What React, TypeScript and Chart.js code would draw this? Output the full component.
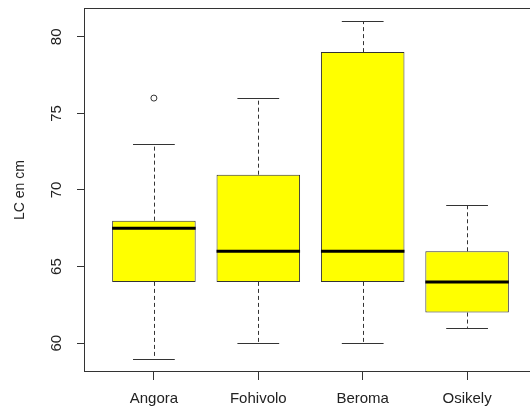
import React, { useEffect, useRef } from "react";
import { Chart, registerables } from "chart.js";

Chart.register(...registerables);

const categories = ["Angora", "Fohivolo", "Beroma", "Osikely"];
const whiskerLow = [59, 60, 60, 61];
const q1 = [64, 64, 64, 62];
const median = [67.5, 66, 66, 64];
const q3 = [68, 71, 79, 66];
const whiskerHigh = [73, 76, 81, 69];
const outlierValues: number[][] = [[76], [], [], []];
const yTicks = [60, 65, 70, 75, 80];
const yTitle = "LC en cm";

const FONT = "'Liberation Sans', Arial, Helvetica, sans-serif";
const LINE = "#333333";
const TEXT = "#222222";

export default function App() {
  const ref = useRef<HTMLCanvasElement | null>(null);

  useEffect(() => {
    document.documentElement.style.overflow = "hidden";
    const canvas = ref.current!;
    const boxPlugin = {
      id: "boxparts",
      beforeDatasetsDraw(chart: any) {
        const ctx = chart.ctx;
        const xs = chart.scales.x;
        const ys = chart.scales.y;
        ctx.save();
        ctx.strokeStyle = LINE;
        ctx.lineWidth = 1;
        categories.forEach((_, i) => {
          const cx = Math.round(xs.getPixelForValue(i + 1)) + 0.5;
          const pLow = ys.getPixelForValue(whiskerLow[i]);
          const pQ1 = ys.getPixelForValue(q1[i]);
          const pQ3 = ys.getPixelForValue(q3[i]);
          const pHigh = ys.getPixelForValue(whiskerHigh[i]);
          ctx.setLineDash([4, 3]);
          ctx.beginPath();
          ctx.moveTo(cx, pQ3);
          ctx.lineTo(cx, pHigh);
          ctx.moveTo(cx, pQ1);
          ctx.lineTo(cx, pLow);
          ctx.stroke();
          ctx.setLineDash([]);
          const l = xs.getPixelForValue(i + 1 - 0.2);
          const r = xs.getPixelForValue(i + 1 + 0.2);
          ctx.beginPath();
          ctx.moveTo(l, Math.round(pHigh) + 0.5);
          ctx.lineTo(r, Math.round(pHigh) + 0.5);
          ctx.moveTo(l, Math.round(pLow) + 0.5);
          ctx.lineTo(r, Math.round(pLow) + 0.5);
          ctx.stroke();
        });
        ctx.restore();
      },
      afterDatasetsDraw(chart: any) {
        const ctx = chart.ctx;
        const xs = chart.scales.x;
        const ys = chart.scales.y;
        ctx.save();
        ctx.strokeStyle = "#000000";
        ctx.lineWidth = 3;
        categories.forEach((_, i) => {
          const l = xs.getPixelForValue(i + 1 - 0.4);
          const r = xs.getPixelForValue(i + 1 + 0.4);
          const p = ys.getPixelForValue(median[i]);
          ctx.beginPath();
          ctx.moveTo(l, p);
          ctx.lineTo(r, p);
          ctx.stroke();
        });
        ctx.restore();
      },
      afterDraw(chart: any) {
        const ctx = chart.ctx;
        const a = chart.chartArea;
        const ys = chart.scales.y;
        ctx.save();
        ctx.strokeStyle = LINE;
        ctx.lineWidth = 1;
        ctx.strokeRect(a.left - 0.5, a.top + 0.5, a.right - a.left + 1, a.bottom - a.top - 1);
        ctx.fillStyle = TEXT;
        ctx.font = `15px ${FONT}`;
        ctx.textAlign = "center";
        ctx.textBaseline = "middle";
        yTicks.forEach((v) => {
          const p = ys.getPixelForValue(v);
          ctx.save();
          ctx.translate(57, p);
          ctx.rotate(-Math.PI / 2);
          ctx.fillText(String(v), 0, 0);
          ctx.restore();
        });
        ctx.font = `14px ${FONT}`;
        ctx.save();
        ctx.translate(20, (a.top + a.bottom) / 2);
        ctx.rotate(-Math.PI / 2);
        ctx.fillText(yTitle, 0, 0);
        ctx.restore();
        ctx.restore();
      },
    };

    const outlierPoints: { x: number; y: number }[] = [];
    outlierValues.forEach((vals, i) => vals.forEach((v) => outlierPoints.push({ x: i + 1, y: v })));

    const chart = new Chart(canvas, {
      type: "bar",
      data: {
        datasets: [
          {
            type: "bar",
            data: categories.map((_, i) => ({ x: i + 1, y: [q1[i], q3[i]] })) as any,
            backgroundColor: "#ffff00",
            borderColor: LINE,
            borderWidth: 1,
            borderSkipped: false,
            barPercentage: 0.8,
            categoryPercentage: 1,
          },
          {
            type: "scatter",
            data: outlierPoints as any,
            pointStyle: "circle",
            pointRadius: 3,
            borderColor: LINE,
            backgroundColor: "rgba(0,0,0,0)",
            borderWidth: 1,
          } as any,
        ],
      },
      options: {
        animation: false,
        responsive: false,
        devicePixelRatio: 1,
        layout: { padding: { top: 8, right: 5, left: 0, bottom: 0 } },
        plugins: { legend: { display: false }, tooltip: { enabled: false } },
        scales: {
          x: {
            type: "linear",
            offset: false,
            min: 0.34,
            max: 4.66,
            afterBuildTicks: (s: any) => {
              s.ticks = categories.map((_, i) => ({ value: i + 1 }));
            },
            afterFit: (s: any) => {
              s.height = 38;
            },
            ticks: {
              callback: (v: any) => categories[Number(v) - 1] ?? "",
              color: TEXT,
              font: { family: FONT, size: 15 },
              padding: 10,
              maxRotation: 0,
              autoSkip: false,
            },
            grid: {
              offset: false,
              drawOnChartArea: false,
              drawTicks: true,
              tickLength: 8,
              color: LINE,
            },
            border: { display: false },
          },
          y: {
            type: "linear",
            min: 58.12,
            max: 81.88,
            afterBuildTicks: (s: any) => {
              s.ticks = yTicks.map((v) => ({ value: v }));
            },
            afterFit: (s: any) => {
              s.width = 85;
            },
            ticks: { display: false },
            grid: {
              drawOnChartArea: false,
              drawTicks: true,
              tickLength: 8,
              color: LINE,
            },
            border: { display: false },
          },
        },
      } as any,
      plugins: [boxPlugin],
    });
    return () => chart.destroy();
  }, []);

  return (
    <div style={{ position: "fixed", left: 0, top: 0, width: 541, height: 410, background: "#fff" }}>
      <canvas ref={ref} width={541} height={410} style={{ display: "block" }} />
    </div>
  );
}
